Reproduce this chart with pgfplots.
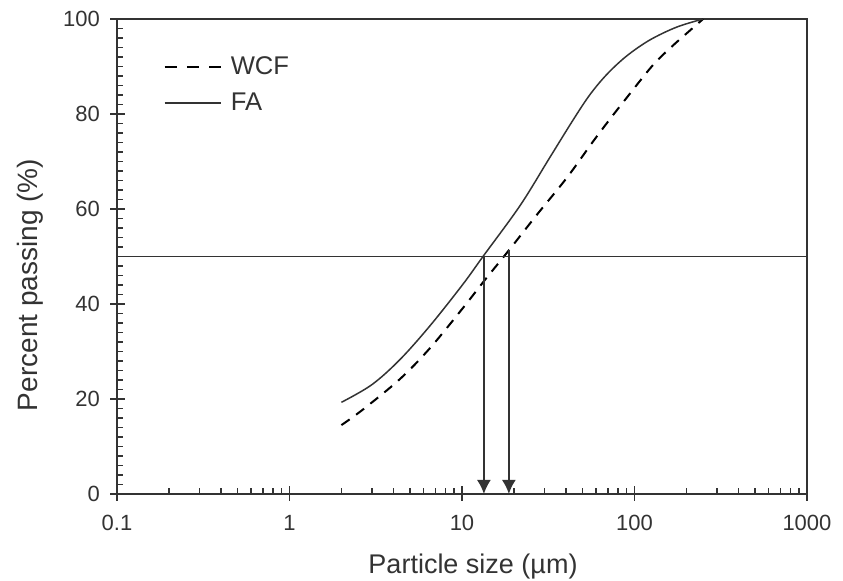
\documentclass[border=0pt]{standalone}
\usepackage{fontspec}
\setmainfont{Liberation Sans}
\usepackage{pgfplots}
\usepackage{pgfplotstable}
\pgfplotsset{compat=1.18}
\usetikzlibrary{arrows.meta}
\definecolor{ink}{HTML}{333333}
\pgfplotstableread{
x y
2.0 19.3
3.0 23.0
4.37 28.3
6.52 35.4
10.1 44.1
13.3 50.1
21.7 60.7
32 70.6
44 78.7
55 84.0
69 88.3
90 92.2
123 95.6
176 98.3
250 100
}\FA
\pgfplotstableread{
x y
2.0 14.5
2.67 17.8
4.37 24.2
6.52 30.7
10.1 39.1
13.4 44.8
18.7 51.3
27.2 58.8
40.6 66.6
57.5 74.2
72 78.9
90.5 83.5
128 90.3
167 94.4
210 97.6
250 100
}\WCF
\begin{document}
\begin{tikzpicture}
\begin{axis}[
  at={(0,0)}, anchor=south west,
  scale only axis, width=345pt, height=237.5pt,
  xmode=log, xmin=0.1, xmax=1000, ymin=0, ymax=100,
  xtick={0.1,1,10,100,1000}, xticklabels={0.1,1,10,100,1000},
  ytick={0,20,40,60,80,100},
  minor y tick num=9,
  xtick pos=bottom, ytick pos=left,
  tick align=inside,
  major tick length=4pt, minor tick length=3pt,
  tick style={ink, line width=0.75pt},
  extra x ticks={0.1,1,10,100,1000}, extra x tick labels={},
  extra y ticks={0,20,40,60,80,100}, extra y tick labels={},
  extra tick style={tick align=outside, major tick length=3.5pt},
  axis line style={ink, line width=1pt},
  /pgf/number format/assume math mode=true,
  ticklabel style={font=\fontsize{11}{13}\selectfont, text=ink},
  xticklabel style={yshift=-7pt},
  yticklabel style={xshift=-5pt},
  xlabel={Particle size (µm)},
  ylabel={Percent passing (\%)},
  xlabel style={at={(axis description cs:0.516,-0.152)}, anchor=center, font=\fontsize{13.5}{15}\selectfont, text=ink},
  ylabel style={at={(axis description cs:-0.126,0.44)}, anchor=center, font=\fontsize{14}{16}\selectfont, text=ink},
  legend style={draw=none, fill=none, inner sep=0pt, at={(axis description cs:0.0667,0.928)}, anchor=north west,
    font=\fontsize{12.8}{14}\selectfont, text=ink, row sep=4.5pt,
    nodes={inner sep=1.5pt},
    /tikz/every odd column/.append style={column sep=3pt}},
  legend cell align=left,
]
\addplot[black, line width=1pt, dash pattern=on 5pt off 4pt, smooth, tension=0.55,
  legend image code/.code={\draw[black, line width=1.2pt, dash pattern=on 6.3pt off 4.8pt] (0pt,0pt) -- (28pt,0pt);}]
  table[x=x,y=y] {\WCF};
\addlegendentry{WCF}
\addplot[ink, line width=0.75pt, smooth, tension=0.55,
  legend image code/.code={\draw[ink, line width=0.75pt] (0pt,0pt) -- (28pt,0pt);}]
  table[x=x,y=y] {\FA};
\addlegendentry{FA}
\addplot[ink, line width=0.9pt, forget plot] coordinates {(0.1,50) (1000,50)};
\addplot[ink, line width=0.9pt, -{Latex[length=7pt,width=7pt]}, forget plot] coordinates {(13.4,50) (13.4,0)};
\addplot[ink, line width=0.9pt, -{Latex[length=7pt,width=7pt]}, forget plot] coordinates {(18.7,51.3) (18.7,0)};
\end{axis}
\pgfresetboundingbox
\path (-58.5pt,-43.5pt) rectangle (363pt,247pt);
\end{tikzpicture}
\end{document}
